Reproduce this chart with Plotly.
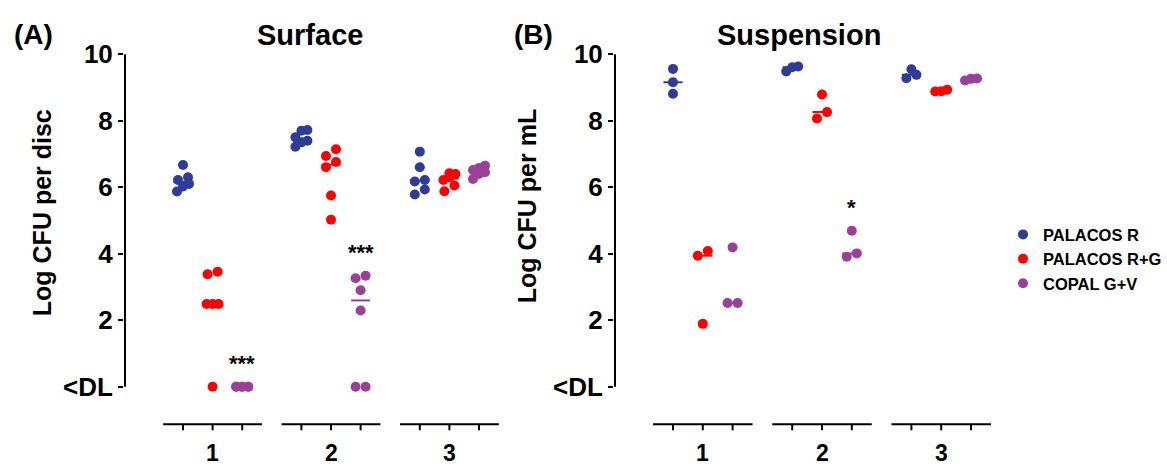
import numpy as np
import plotly.graph_objects as go

# ---------------- data ----------------
groups = ["1", "2", "3"]
series_names = ["PALACOS R", "PALACOS R+G", "COPAL G+V"]
series_colors = ["#2F3C97", "#FF0000", "#9B4098"]

# Surface: Log CFU per disc (0 = below detection limit, "<DL")
surface_palacos_r = [[6.67, 6.30, 6.22, 6.10, 6.02, 5.87],
                     [7.72, 7.70, 7.50, 7.40, 7.35, 7.22],
                     [7.07, 6.60, 6.22, 6.17, 5.93, 5.78]]
surface_palacos_rg = [[3.46, 3.38, 2.49, 2.49, 2.49, 0.0],
                      [7.14, 6.94, 6.76, 6.60, 5.75, 5.02],
                      [6.42, 6.40, 6.30, 6.22, 6.05, 5.88]]
surface_copal_gv = [[0.0, 0.0, 0.0, 0.0, 0.0, 0.0],
                    [3.34, 3.26, 2.90, 2.29, 0.0, 0.0],
                    [6.65, 6.58, 6.52, 6.45, 6.40, 6.25]]

# Suspension: Log CFU per mL
suspension_palacos_r = [[9.56, 9.16, 8.81],
                        [9.63, 9.61, 9.48],
                        [9.55, 9.38, 9.28]]
suspension_palacos_rg = [[4.08, 3.94, 1.89],
                         [8.79, 8.26, 8.07],
                         [8.93, 8.89, 8.88]]
suspension_copal_gv = [[4.19, 2.52, 2.52],
                       [4.69, 4.01, 3.91],
                       [9.27, 9.26, 9.21]]

# significance marks: (group index, series index, label)
surface_sig = [(0, 2, "***"), (1, 2, "***")]
suspension_sig = [(1, 2, "*")]

y_tickvals = [0, 2, 4, 6, 8, 10]
y_ticktext = ["<DL", "2", "4", "6", "8", "10"]

# ---------------- layout constants ----------------
W, H = 1167, 467
FONT = "Liberation Sans, Arial, Helvetica, sans-serif"
TOP_PX = 40
Y_RANGE = [-2.416, 10.319]
PPY = (H - TOP_PX) / (Y_RANGE[1] - Y_RANGE[0])  # px per y unit

panels = [
    dict(name="A", title="Surface", ytitle="Log CFU per disc",
         data=[surface_palacos_r, surface_palacos_rg, surface_copal_gv], sig=surface_sig,
         left_px=124, right_px=505, origin_px=183, ppx=29.6,
         title_x=310, tag_x=33, ytitle_x=42, ytitle_y=211),
    dict(name="B", title="Suspension", ytitle="Log CFU per mL",
         data=[suspension_palacos_r, suspension_palacos_rg, suspension_copal_gv], sig=suspension_sig,
         left_px=614, right_px=1000, origin_px=673, ppx=29.8,
         title_x=799, tag_x=533, ytitle_x=527, ytitle_y=204),
]


def swarm_offsets(values, ppy, ppx, h=8.0, cap=3):
    """GraphPad-like scatter: points close in y share a row and are spread horizontally."""
    order = sorted(range(len(values)), key=lambda i: values[i])
    bins, cur, start = [], [], None
    for i in order:
        ypx = values[i] * ppy
        if cur and (ypx - start > h or len(cur) >= cap):
            bins.append(cur)
            cur = []
        if not cur:
            start = ypx
        cur.append(i)
    if cur:
        bins.append(cur)
    offs = [0.0] * len(values)
    for b in bins:
        n = len(b)
        if n == 1:
            o = [0.0]
        elif n == 2:
            o = [-5.0, 5.0]
        else:
            o = [-6.0, 0.0, 6.0]
        for k, i in enumerate(b):
            offs[i] = o[k % len(o)] / ppx
    return offs


fig = go.Figure()
shapes = []
annotations = []
AXIS_Y = -(424 - 386) / PPY  # baseline of the grouped x axis segments
TICK_LEN = 6 / PPY

for p_i, p in enumerate(panels):
    xa = "x" if p_i == 0 else "x2"
    ya = "y" if p_i == 0 else "y2"
    x0 = (p["left_px"] - p["origin_px"]) / p["ppx"]
    x1 = (p["right_px"] - p["origin_px"]) / p["ppx"]
    axis_key = "xaxis" if p_i == 0 else "xaxis2"
    yaxis_key = "yaxis" if p_i == 0 else "yaxis2"
    fig.layout[axis_key] = dict(domain=[p["left_px"] / W, p["right_px"] / W], range=[x0, x1],
                                showgrid=False, zeroline=False, showticklabels=False,
                                ticks="", showline=False, anchor=ya)
    fig.layout[yaxis_key] = dict(domain=[0, (H - TOP_PX) / H], range=Y_RANGE, anchor=xa,
                                 showgrid=False, zeroline=False, showline=False,
                                 tickvals=y_tickvals, ticktext=y_ticktext,
                                 ticks="outside", ticklen=5, tickwidth=2, tickcolor="black",
                                 tickfont=dict(family=FONT, size=26, color="black", weight="bold"))

    # median lines (under the dots)
    for s_i, sdata in enumerate(p["data"]):
        mx, my = [], []
        for g_i, vals in enumerate(sdata):
            pos = 4 * g_i + s_i
            med = float(np.median(vals))
            mx += [pos - 0.32, pos + 0.32, None]
            my += [med, med, None]
        fig.add_trace(go.Scatter(x=mx, y=my, mode="lines", xaxis=xa, yaxis=ya,
                                 line=dict(color=series_colors[s_i], width=2),
                                 showlegend=False, hoverinfo="skip"))
    # dots
    for s_i, sdata in enumerate(p["data"]):
        xs, ys = [], []
        for g_i, vals in enumerate(sdata):
            pos = 4 * g_i + s_i
            offs = swarm_offsets(vals, PPY, p["ppx"])
            xs += [pos + o for o in offs]
            ys += list(vals)
        fig.add_trace(go.Scatter(x=xs, y=ys, mode="markers", xaxis=xa, yaxis=ya,
                                 name=series_names[s_i], legendgroup=series_names[s_i],
                                 showlegend=(p_i == 0),
                                 marker=dict(color=series_colors[s_i], size=10, line=dict(width=0))))

    # significance stars
    for g_i, s_i, lab in p["sig"]:
        top = max(p["data"][s_i][g_i])
        annotations.append(dict(x=4 * g_i + s_i, y=top, xref=xa, yref=ya, text=lab,
                                showarrow=False, yanchor="middle", yshift=23,
                                font=dict(family=FONT, size=22, color="black", weight="bold")))

    # vertical y-axis line from <DL to 10
    dom_w = p["right_px"] - p["left_px"]
    shapes.append(dict(type="line", xref=xa + " domain", yref=ya, x0=1.0 / dom_w, x1=1.0 / dom_w,
                       y0=0, y1=10, line=dict(color="black", width=2)))
    # grouped x-axis segments with ticks and group labels
    for g_i, g in enumerate(groups):
        base = 4 * g_i
        shapes.append(dict(type="line", xref=xa, yref=ya, x0=base - 0.67, x1=base + 2.67,
                           y0=AXIS_Y, y1=AXIS_Y, line=dict(color="black", width=2)))
        for s_i in range(len(series_names)):
            shapes.append(dict(type="line", xref=xa, yref=ya, x0=base + s_i, x1=base + s_i,
                               y0=AXIS_Y, y1=AXIS_Y - TICK_LEN, line=dict(color="black", width=2)))
        annotations.append(dict(x=base + 1, y=-(453 - 386) / PPY, xref=xa, yref=ya, text=g,
                                showarrow=False, yanchor="middle",
                                font=dict(family=FONT, size=23, color="black", weight="bold")))

    # titles and labels
    annotations.append(dict(x=p["title_x"] / W, y=1 - 31 / H, xref="paper", yref="paper",
                            text=p["title"], showarrow=False, xanchor="center", yanchor="middle",
                            font=dict(family=FONT, size=29, color="black", weight="bold")))
    annotations.append(dict(x=p["tag_x"] / W, y=1 - 31 / H, xref="paper", yref="paper",
                            text="(" + p["name"] + ")", showarrow=False, xanchor="center",
                            yanchor="middle",
                            font=dict(family=FONT, size=28, color="black", weight="bold")))
    annotations.append(dict(x=p["ytitle_x"] / W, y=1 - p["ytitle_y"] / H, xref="paper",
                            yref="paper", text=p["ytitle"], textangle=-90, showarrow=False,
                            xanchor="center", yanchor="middle",
                            font=dict(family=FONT, size=25, color="black", weight="bold")))

fig.update_layout(
    width=W, height=H, autosize=False,
    margin=dict(l=0, r=0, t=0, b=0),
    paper_bgcolor="white", plot_bgcolor="white",
    shapes=shapes, annotations=annotations,
    legend=dict(x=1003 / W, y=1 - 215 / H, xanchor="left", yanchor="top",
                bgcolor="rgba(0,0,0,0)", itemwidth=30, tracegroupgap=0,
                font=dict(family=FONT, size=16.5, color="black", weight="bold")),
)

fig.write_html("out.html", config={"displayModeBar": False},
               post_script="document.body.style.margin='0';document.body.style.padding='0';")
